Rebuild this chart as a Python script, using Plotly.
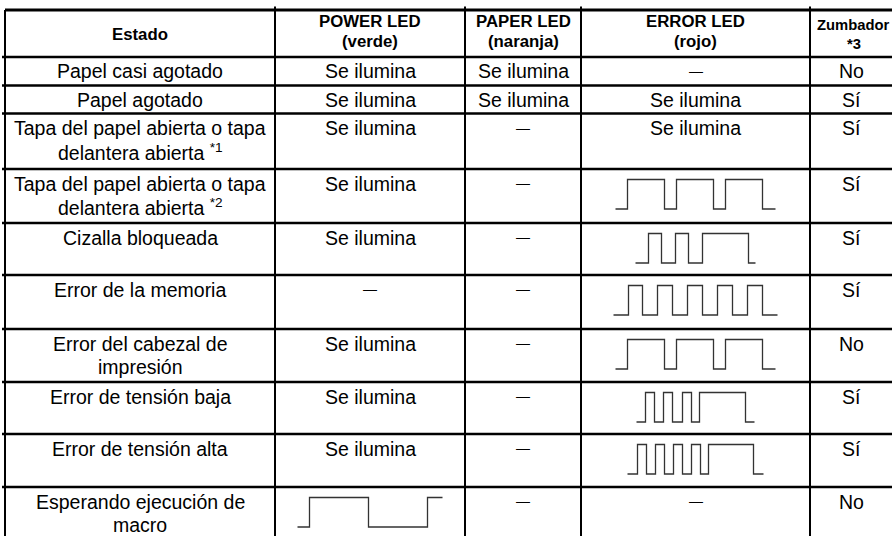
import plotly.graph_objects as go

# ---------------- data ----------------
header_top = ["Estado", "POWER LED", "PAPER LED", "ERROR LED", "Zumbador"]
header_bottom = ["", "(verde)", "(naranja)", "(rojo)", "*3"]

estado = [
    ["Papel casi agotado"],
    ["Papel agotado"],
    ["Tapa del papel abierta o tapa", "delantera abierta <sup>*1</sup>"],
    ["Tapa del papel abierta o tapa", "delantera abierta <sup>*2</sup>"],
    ["Cizalla bloqueada"],
    ["Error de la memoria"],
    ["Error del cabezal de", "impresión"],
    ["Error de tensión baja"],
    ["Error de tensión alta"],
    ["Esperando ejecución de", "macro"],
]
ON = "Se ilumina"
OFF = "—"
power_led = [ON, ON, ON, ON, ON, OFF, ON, ON, ON, "blink_macro"]
paper_led = [ON, ON, OFF, OFF, OFF, OFF, OFF, OFF, OFF, OFF]
error_led = [OFF, ON, ON, "blink_cover", "blink_cutter", "blink_memory",
             "blink_head", "blink_lowv", "blink_highv", OFF]
buzzer = ["No", "Sí", "Sí", "Sí", "Sí", "Sí", "No", "Sí", "Sí", "No"]

# blink patterns: durations of successive segments (start low, alternate low/high)
blink_cover = [12, 37, 12, 37, 12, 37, 13]
blink_cutter = [13, 13, 14, 13, 14, 46, 7]
blink_memory = [15, 14, 15, 15, 15, 15, 15, 15, 15, 15, 15]
blink_head = [12, 37, 12, 37, 12, 37, 13]
blink_lowv = [9, 9, 9, 9, 10, 9, 8, 46, 9]
blink_highv = [10, 9, 9, 9, 9, 9, 9, 9, 8, 45, 10]
blink_macro = [12, 59, 59, 15]
patterns = {
    "blink_cover": blink_cover, "blink_cutter": blink_cutter,
    "blink_memory": blink_memory, "blink_head": blink_head,
    "blink_lowv": blink_lowv, "blink_highv": blink_highv,
    "blink_macro": blink_macro,
}

# ---------------- layout geometry ----------------
W, H = 892, 536
col_edges = [5, 275, 465, 581, 810, 893]
row_edges = [10, 57, 85.5, 113.5, 169, 223, 275, 329, 382, 434, 487, 560]
BODY_FONT = dict(family="Liberation Sans, Arial, Helvetica, sans-serif", size=19.5, color="#000")
DASH_FONT = dict(family="Liberation Sans, Arial, sans-serif", size=14, color="#000")
HEAD_FONT = dict(family="Liberation Sans, Arial, Helvetica, sans-serif", size=16.8, color="#000")
NARROW_FONT = dict(family="Liberation Sans, Arial, Helvetica, sans-serif", size=14.8, color="#000")
LINE1_OFF = 14.5
LINE2_OFF = 38
WAVE_HI_OFF = 10.5
WAVE_LO_OFF = 40
UNIT_PX = 1.0

fig = go.Figure()
annotations = []
shapes = []


def add_text(x, y, text, font):
    annotations.append(dict(x=x, y=y, xref="x", yref="y", text=text, showarrow=False,
                            xanchor="center", yanchor="middle", font=font))


# grid lines
for i, y in enumerate(row_edges):
    x0 = col_edges[0] if i == 0 else 2
    shapes.append(dict(type="line", xref="x", yref="y", x0=x0, x1=W + 5, y0=y, y1=y,
                       line=dict(color="#000", width=3 if i == 0 else 2.5)))
for j, x in enumerate(col_edges):
    y0 = row_edges[0] if j == 0 else row_edges[0] - 3.5
    shapes.append(dict(type="line", xref="x", yref="y", x0=x, x1=x, y0=y0, y1=H + 10,
                       line=dict(color="#000", width=2)))

centers = [(col_edges[k] + col_edges[k + 1]) / 2 for k in range(5)]
centers[4] = 851

# header
hy0, hy1 = row_edges[0], row_edges[1]
add_text(centers[0], (hy0 + hy1) / 2 + 0.5, "<b>" + header_top[0] + "</b>", HEAD_FONT)
for k in range(1, 4):
    add_text(centers[k], 21.5, "<b>" + header_top[k] + "</b>", HEAD_FONT)
    add_text(centers[k], 41, "<b>" + header_bottom[k] + "</b>", HEAD_FONT)
add_text(centers[4] + 2, 24.5, "<b>" + header_top[4] + "</b>", NARROW_FONT)
add_text(centers[4] + 3, 43.5, "<b>" + header_bottom[4] + "</b>", NARROW_FONT)


def draw_wave(pattern, xc, top):
    total = sum(pattern) * UNIT_PX
    xs = [xc - total / 2]
    for d in pattern:
        xs.append(xs[-1] + d * UNIT_PX)
    hi, lo = top + WAVE_HI_OFF, top + WAVE_LO_OFF
    ys = [lo if i % 2 == 0 else hi for i in range(len(pattern))]
    ys.append(ys[-1])
    fig.add_trace(go.Scatter(x=xs, y=ys, mode="lines", line=dict(color="#333", width=1.3, shape="hv"),
                             hoverinfo="skip", showlegend=False))


for r in range(len(estado)):
    top, bot = row_edges[r + 1], row_edges[r + 2]
    tall = (bot - top) > 35
    y1 = top + LINE1_OFF if tall else (top + bot) / 2
    # estado column
    add_text(centers[0], y1, estado[r][0], BODY_FONT)
    if len(estado[r]) > 1:
        add_text(centers[0], top + LINE2_OFF, estado[r][1], BODY_FONT)
    for k, col in ((1, power_led), (2, paper_led), (3, error_led), (4, buzzer)):
        v = col[r]
        if v in patterns:
            draw_wave(patterns[v], centers[k], top)
        elif v == OFF:
            add_text(centers[k], y1 - 0.5, OFF, DASH_FONT)
        else:
            add_text(centers[k], y1, v, BODY_FONT)

fig.update_layout(
    width=W, height=H, autosize=False,
    margin=dict(l=0, r=0, t=0, b=0),
    paper_bgcolor="white", plot_bgcolor="white",
    xaxis=dict(range=[0, W], visible=False, fixedrange=True),
    yaxis=dict(range=[H, 0], visible=False, fixedrange=True),
    shapes=shapes, annotations=annotations, showlegend=False,
)
fig.write_html("out.html", config={"displayModeBar": False},
               post_script="document.body.style.margin='0';document.body.style.padding='0';")
